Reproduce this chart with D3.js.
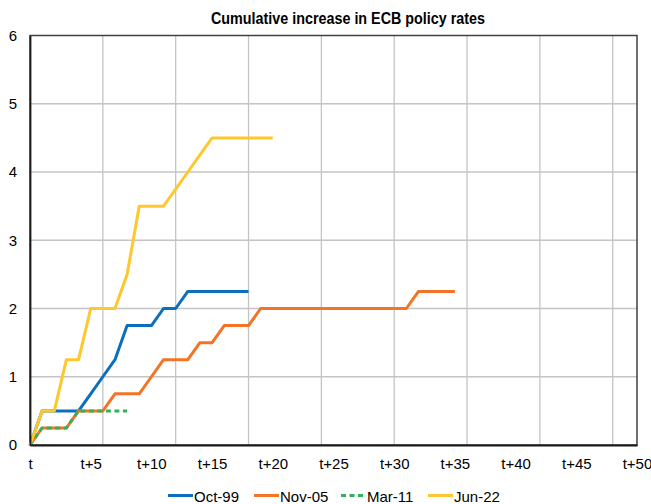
<!DOCTYPE html>
<html>
<head>
<meta charset="utf-8">
<script src="https://cdn.jsdelivr.net/npm/d3@7"></script>
<style>
  body { margin: 0; background: #fff; }
  #chart { width: 651px; height: 504px; }
  text { font-family: "Liberation Sans", Arial, sans-serif; fill: #000; }
</style>
</head>
<body>
<div id="chart"></div>
<script>
// months after the first hike (t, t+1, ...)
const periods = d3.range(0, 51);
const xTickValues = d3.range(0, 51, 5);
const xTickLabels = xTickValues.map(d => d === 0 ? 't' : `t+${d}`);
const yTickValues = [0, 1, 2, 3, 4, 5, 6];

const seriesNames = ['Oct-99', 'Nov-05', 'Mar-11', 'Jun-22'];
const oct99 = [0, 0.5, 0.5, 0.5, 0.5, 0.75, 1, 1.25, 1.75, 1.75, 1.75, 2, 2, 2.25, 2.25, 2.25, 2.25, 2.25, 2.25];
const nov05 = [0, 0.25, 0.25, 0.25, 0.5, 0.5, 0.5, 0.75, 0.75, 0.75, 1, 1.25, 1.25, 1.25, 1.5, 1.5, 1.75, 1.75, 1.75,
    2, 2, 2, 2, 2, 2, 2, 2, 2, 2, 2, 2, 2, 2.25, 2.25, 2.25, 2.25];
const mar11 = [0, 0.25, 0.25, 0.25, 0.5, 0.5, 0.5, 0.5, 0.5];
const jun22 = [0, 0.5, 0.5, 1.25, 1.25, 2, 2, 2, 2.5, 3.5, 3.5, 3.5, 3.75, 4, 4.25, 4.5, 4.5, 4.5, 4.5, 4.5, 4.5];

const colors = ['#0b6fbd', '#f47326', '#2fb45a', '#fec72e'];
const dashes = [null, null, '5,3.5', null];

function render() {
    const width = 651, height = 504;
    const margin = { top: 35.5, right: 14, bottom: 59, left: 30 };
    const chartWidth = width - margin.left - margin.right;
    const chartHeight = height - margin.top - margin.bottom;

    const svg = d3.select('#chart').append('svg')
        .attr('width', width)
        .attr('height', height);

    // Title (condensed bold, as in the original)
    svg.append('text')
        .attr('x', 348)
        .attr('y', 24)
        .attr('text-anchor', 'middle')
        .attr('font-size', '16px')
        .attr('font-weight', 'bold')
        .attr('textLength', 274)
        .attr('lengthAdjust', 'spacingAndGlyphs')
        .text('Cumulative increase in ECB policy rates');

    const g = svg.append('g')
        .attr('transform', `translate(${margin.left},${margin.top})`);

    const xScale = d3.scaleLinear().domain([0, periods.length - 1]).range([0, chartWidth]);
    const yScale = d3.scaleLinear().domain([0, 6]).range([chartHeight, 0]);

    // Gridlines
    g.append('g')
        .selectAll('line')
        .data(yTickValues.slice(1, -1))
        .join('line')
        .attr('x1', 0).attr('x2', chartWidth)
        .attr('y1', d => yScale(d)).attr('y2', d => yScale(d))
        .attr('stroke', '#c4c4c4').attr('stroke-width', 1.3);

    g.append('g')
        .selectAll('line')
        .data(d3.range(6, 50, 6))
        .join('line')
        .attr('x1', d => xScale(d)).attr('x2', d => xScale(d))
        .attr('y1', 0).attr('y2', chartHeight)
        .attr('stroke', '#c4c4c4').attr('stroke-width', 1.3);

    // Frame
    g.append('rect')
        .attr('width', chartWidth).attr('height', chartHeight)
        .attr('fill', 'none').attr('stroke', '#404040').attr('stroke-width', 1.5);

    // Lines
    const line = d3.line()
        .x((d, i) => xScale(periods[i]))
        .y(d => yScale(d));

    [oct99, nov05, mar11, jun22].forEach((s, i) => {
        g.append('path')
            .datum(s)
            .attr('d', line)
            .attr('fill', 'none')
            .attr('stroke', colors[i])
            .attr('stroke-width', 3)
            .attr('stroke-linejoin', 'round')
            .attr('stroke-dasharray', dashes[i]);
    });

    // Axes
    const xAxis = d3.axisBottom(xScale)
        .tickValues(xTickValues)
        .tickSize(0)
        .tickPadding(13)
        .tickFormat((d, i) => xTickLabels[i]);

    const yAxis = d3.axisLeft(yScale)
        .tickValues(yTickValues)
        .tickSize(0)
        .tickPadding(13)
        .tickFormat(d3.format('d'));

    const gx = g.append('g')
        .attr('transform', `translate(0,${chartHeight})`)
        .call(xAxis);
    gx.select('.domain').attr('stroke', '#1a1a1a').attr('stroke-width', 1.8);
    gx.selectAll('text').attr('font-size', '15px').attr('font-family', null);

    const gy = g.append('g').call(yAxis);
    gy.select('.domain').attr('stroke', '#1a1a1a').attr('stroke-width', 1.8);
    gy.selectAll('text').attr('font-size', '15px').attr('font-family', null);

    // Legend
    const legendX = [168, 254, 341, 428];
    const legend = svg.append('g').attr('transform', 'translate(0,495.5)');
    seriesNames.forEach((name, i) => {
        legend.append('line')
            .attr('x1', legendX[i]).attr('x2', legendX[i] + 25)
            .attr('y1', 0).attr('y2', 0)
            .attr('stroke', colors[i]).attr('stroke-width', 3)
            .attr('stroke-dasharray', dashes[i]);
        legend.append('text')
            .attr('x', legendX[i] + 26)
            .attr('y', 6.5)
            .attr('font-size', '15px')
            .text(name);
    });
}

render();
</script>
</body>
</html>
